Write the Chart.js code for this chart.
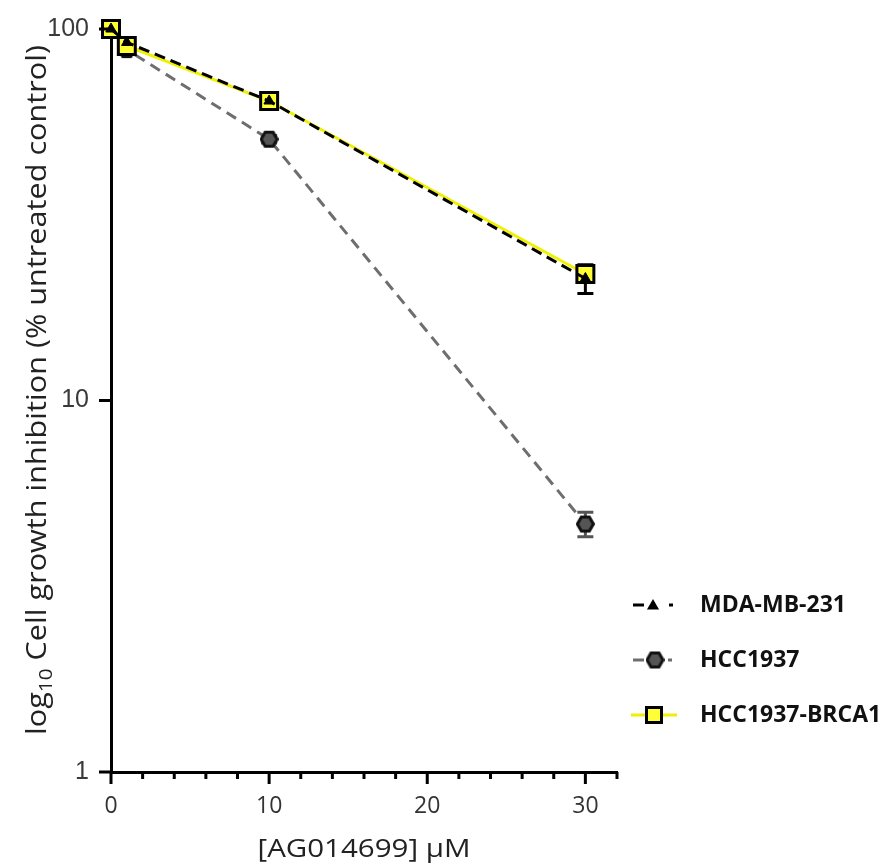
<!DOCTYPE html>
<html>
<head>
<meta charset="utf-8">
<script src="https://cdn.jsdelivr.net/npm/chart.js@4/dist/chart.umd.min.js"></script>
<style>
  html, body { margin: 0; padding: 0; background: #fff; }
</style>
</head>
<body>
<canvas id="chart" width="881" height="868"></canvas>
<script>
// doses in uM and % of untreated control, mean and error
var doses = [0, 1, 10, 30];
var mda = [100, 92, 64, 21.3];
var mdaErr = [0, 1.5, 1.5, 1.9];
var hcc = [100, 88, 50.5, 4.65];
var hccErr = [0, 1.5, 1.2, 0.35];
var brca = [100, 90, 64, 21.9];
var brcaErr = [0, 1.5, 1.5, 0.8];
var seriesNames = ['MDA-MB-231', 'HCC1937', 'HCC1937-BRCA1'];
var yTickValues = [1, 10, 100];
var xTickLabels = [0, 10, 20, 30];

function points(values) {
    return doses.map(function (d, i) { return { x: d, y: values[i] }; });
}

// small sprite for the hexagon marker
function hexMarker(size) {
    var c = document.createElement('canvas');
    c.width = size; c.height = size;
    var g = c.getContext('2d');
    var r = size / 2 - 1.5;
    g.beginPath();
    for (var i = 0; i < 6; i++) {
        var a = Math.PI / 3 * i;
        g.lineTo(size / 2 + r * Math.cos(a), size / 2 + r * Math.sin(a));
    }
    g.closePath();
    g.fillStyle = '#555';
    g.fill();
    g.lineWidth = 3;
    g.strokeStyle = '#111';
    g.stroke();
    return c;
}
var hexImg = hexMarker(19);

function drawTriangle(ctx, x, y, r) {
    ctx.beginPath();
    for (var i = 0; i < 3; i++) {
        var a = i * 2 * Math.PI / 3;
        ctx.lineTo(x + Math.sin(a) * r, y - Math.cos(a) * r);
    }
    ctx.closePath();
    ctx.fillStyle = '#000';
    ctx.fill();
}

function drawSquare(ctx, x, y, s) {
    ctx.fillStyle = '#ffff33';
    ctx.fillRect(x - s / 2, y - s / 2, s, s);
    ctx.lineWidth = 3;
    ctx.strokeStyle = '#000';
    ctx.strokeRect(x - s / 2, y - s / 2, s, s);
}

// text squeezed/stretched to a given length
function fitText(ctx, text, font, len) {
    ctx.font = font;
    return len / ctx.measureText(text).width;
}

var errorBars = {
    id: 'errorBars',
    beforeDatasetsDraw: function (chart) {
        var ctx = chart.ctx;
        var xs = chart.scales.x, ys = chart.scales.y;
        var sets = [[mda, mdaErr, '#000'], [hcc, hccErr, '#555'], [brca, brcaErr, '#000']];
        ctx.save();
        ctx.lineWidth = 3;
        sets.forEach(function (s) {
            doses.forEach(function (d, i) {
                if (!s[1][i]) return;
                var px = xs.getPixelForValue(d);
                var top = ys.getPixelForValue(s[0][i] + s[1][i]);
                var bot = ys.getPixelForValue(s[0][i] - s[1][i]);
                ctx.strokeStyle = s[2];
                ctx.beginPath();
                ctx.moveTo(px, top); ctx.lineTo(px, bot);
                ctx.moveTo(px - 8, top); ctx.lineTo(px + 8, top);
                ctx.moveTo(px - 8, bot); ctx.lineTo(px + 8, bot);
                ctx.stroke();
            });
        });
        ctx.restore();
    }
};

var decorations = {
    id: 'decorations',
    afterDraw: function (chart) {
        var ctx = chart.ctx;
        var xs = chart.scales.x, ys = chart.scales.y;
        var area = chart.chartArea;
        ctx.save();

        // tick marks: long on the labelled values, short in between
        ctx.strokeStyle = '#000';
        ctx.lineWidth = 3;
        ctx.beginPath();
        xs.ticks.forEach(function (t) {
            var px = xs.getPixelForValue(t.value);
            var len = t.value % 10 === 0 ? 12 : 7;
            ctx.moveTo(px, area.bottom); ctx.lineTo(px, area.bottom + len);
        });
        ys.ticks.forEach(function (t) {
            var py = ys.getPixelForValue(t.value);
            ctx.moveTo(area.left - 12, py); ctx.lineTo(area.left, py);
        });
        ctx.stroke();

        // y title with subscript
        ctx.fillStyle = '#222';
        var main = ' Cell growth inhibition (% untreated control)';
        var f = '28px "Open Sans"', fs = '19px "Open Sans"';
        ctx.font = f;
        var w1 = ctx.measureText('log').width, w3 = ctx.measureText(main).width;
        ctx.font = fs;
        var w2 = ctx.measureText('10').width;
        var total = w1 + w2 + w3;
        var k = 690 / total;
        ctx.save();
        ctx.translate(46, 390);
        ctx.rotate(-Math.PI / 2);
        ctx.scale(k, 1);
        ctx.textBaseline = 'alphabetic';
        ctx.textAlign = 'left';
        var x0 = -total / 2;
        ctx.font = f;
        ctx.fillText('log', x0, 0);
        ctx.font = fs;
        ctx.fillText('10', x0 + w1, 6);
        ctx.font = f;
        ctx.fillText(main, x0 + w1 + w2, 0);
        ctx.restore();

        // x title
        var xt = '[AG014699] \u00b5M';
        var xf = '26px "Open Sans"';
        var kx = fitText(ctx, xt, xf, 213);
        ctx.save();
        ctx.translate(364, 857);
        ctx.scale(kx, 1);
        ctx.font = xf;
        ctx.textAlign = 'center';
        ctx.textBaseline = 'alphabetic';
        ctx.fillText(xt, 0, 0);
        ctx.restore();

        // legend
        var rows = [605, 660, 715];
        ctx.lineWidth = 3;
        // MDA-MB-231
        ctx.strokeStyle = '#000';
        ctx.beginPath();
        ctx.moveTo(633, rows[0]); ctx.lineTo(644, rows[0]);
        ctx.moveTo(669, rows[0]); ctx.lineTo(673, rows[0]);
        ctx.stroke();
        drawTriangle(ctx, 653, rows[0] + 1, 7);
        // HCC1937
        ctx.strokeStyle = '#6e6e6e';
        ctx.beginPath();
        ctx.moveTo(633, rows[1]); ctx.lineTo(644, rows[1]);
        ctx.moveTo(668, rows[1]); ctx.lineTo(672, rows[1]);
        ctx.stroke();
        ctx.drawImage(hexImg, 655 - 9.5, rows[1] - 9.5);
        // HCC1937-BRCA1
        ctx.strokeStyle = '#f0f000';
        ctx.beginPath();
        ctx.moveTo(631, rows[2]); ctx.lineTo(677, rows[2]);
        ctx.stroke();
        drawSquare(ctx, 654, rows[2], 15);

        ctx.fillStyle = '#111';
        ctx.font = 'bold 23px "Open Sans"';
        ctx.textAlign = 'left';
        ctx.textBaseline = 'middle';
        seriesNames.forEach(function (n, i) { ctx.fillText(n, 700, rows[i]); });

        ctx.restore();
    }
};

var ctx = document.getElementById('chart');
new Chart(ctx, {
    type: 'line',
    data: {
        datasets: [{
            label: seriesNames[0],
            data: points(mda),
            borderColor: '#000',
            borderWidth: 3,
            borderDash: [11, 6],
            pointStyle: 'triangle',
            pointRadius: 6,
            pointBackgroundColor: '#000',
            pointBorderColor: '#000',
            pointBorderWidth: 1,
            clip: false,
            order: 0
        }, {
            label: seriesNames[1],
            data: points(hcc),
            borderColor: '#6e6e6e',
            borderWidth: 3,
            borderDash: [11, 7],
            pointStyle: hexImg,
            pointRadius: 9,
            clip: false,
            order: 2
        }, {
            label: seriesNames[2],
            data: points(brca),
            borderColor: '#f0f000',
            borderWidth: 3,
            pointStyle: 'rect',
            pointRadius: 12,
            pointBackgroundColor: '#ffff33',
            pointBorderColor: '#000',
            pointBorderWidth: 3,
            clip: false,
            order: 1
        }]
    },
    options: {
        responsive: false,
        animation: false,
        layout: { padding: { top: 23, right: 264, bottom: 0, left: 0 } },
        plugins: { legend: { display: false }, tooltip: { enabled: false } },
        scales: {
            x: {
                type: 'linear',
                min: 0,
                max: 32,
                afterFit: function (s) { s.height = 96; },
                ticks: {
                    stepSize: 2,
                    autoSkip: false,
                    maxRotation: 0,
                    padding: 13,
                    color: '#333',
                    font: { family: 'Open Sans', size: 23 },
                    callback: function (v) { return xTickLabels.indexOf(v) >= 0 ? String(v) : ''; }
                },
                grid: { display: false },
                border: { display: true, color: '#000', width: 3 }
            },
            y: {
                type: 'logarithmic',
                min: 1,
                max: 100,
                afterFit: function (s) { s.width = 111; },
                afterBuildTicks: function (s) {
                    s.ticks = yTickValues.map(function (v) { return { value: v }; });
                },
                ticks: {
                    padding: 14,
                    color: '#3a3a3a',
                    font: { family: 'Liberation Sans', size: 25 },
                    callback: function (v) { return String(v); }
                },
                grid: { display: false },
                border: { display: true, color: '#000', width: 3 }
            }
        }
    },
    plugins: [errorBars, decorations]
});
</script>
</body>
</html>
